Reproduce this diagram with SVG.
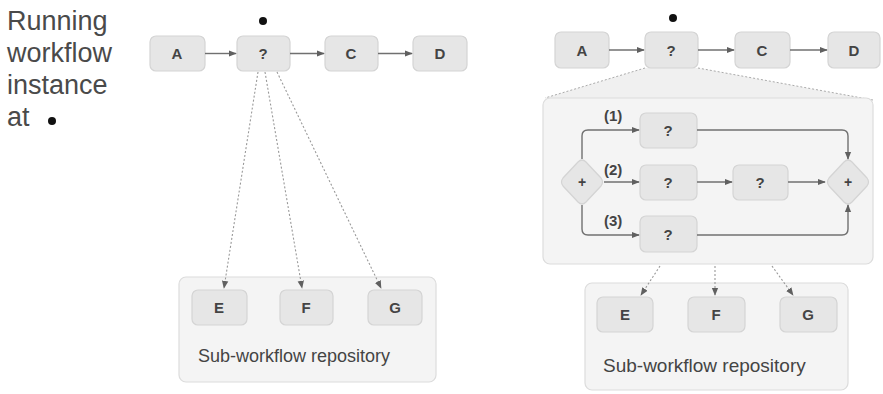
<svg xmlns="http://www.w3.org/2000/svg" width="883" height="394" viewBox="0 0 883 394">
  <style>
    .node rect, .node path { fill: #e6e6e6; stroke: #d4d4d4; stroke-width: 1.2; }
    .node text { font-family: "Liberation Sans", Arial, sans-serif; font-size: 15px; font-weight: bold; fill: #444; text-anchor: middle; }
    .box { fill: #f4f4f4; stroke: #dcdcdc; stroke-width: 1.2; }
    .caption { font-family: "Liberation Sans", Arial, sans-serif; font-size: 18px; fill: #444; }
    .side { font-family: "Liberation Sans", Arial, sans-serif; font-size: 27px; fill: #4a4a4a; }
    .lbl { font-family: "Liberation Sans", Arial, sans-serif; font-size: 15px; font-weight: bold; fill: #444; }
    .flow { fill: none; stroke: #707070; stroke-width: 1.4; marker-end: url(#arr); }
    .dash { fill: none; stroke: #999; stroke-width: 1.1; stroke-dasharray: 2 2; marker-end: url(#arr); }
    .dot { fill: #111; }
  </style>
  <defs>
    <marker id="arr" viewBox="0 0 10 10" refX="9" refY="5" markerWidth="8" markerHeight="8" orient="auto" markerUnits="userSpaceOnUse">
      <path d="M0,1 L10,5 L0,9 z" fill="#606060"/>
    </marker>
  </defs>

  <!-- side caption -->
  <g id="caption">
    <text class="side" x="7" y="30">Running</text>
    <text class="side" x="7" y="62">workflow</text>
    <text class="side" x="7" y="94">instance</text>
    <text class="side" x="7" y="126">at</text>
    <circle class="dot" cx="52" cy="121" r="4"/>
  </g>

  <!-- left: running instance -->
  <g id="repoL">
    <rect class="box" x="179" y="277" width="257" height="105" rx="7"/>
    <text class="caption" x="198" y="362">Sub-workflow repository</text>
  </g>
  <g id="L_A" class="node"><rect x="150" y="36" width="55" height="35" rx="6"/><text x="177" y="59">A</text></g>
  <g id="L_Q" class="node"><rect x="237" y="36" width="53" height="35" rx="6"/><text x="263" y="59">?</text></g>
  <g id="L_C" class="node"><rect x="325" y="36" width="53" height="35" rx="6"/><text x="351" y="59">C</text></g>
  <g id="L_D" class="node"><rect x="413" y="36" width="54" height="35" rx="6"/><text x="440" y="59">D</text></g>
  <circle id="L_mark" class="dot" cx="263" cy="21" r="4"/>
  <g id="L_E" class="node"><rect x="192" y="290" width="55" height="35" rx="6"/><text x="219" y="313">E</text></g>
  <g id="L_F" class="node"><rect x="280" y="290" width="53" height="35" rx="6"/><text x="306" y="313">F</text></g>
  <g id="L_G" class="node"><rect x="368" y="290" width="54" height="35" rx="6"/><text x="395" y="313">G</text></g>

  <g id="connectorsL">
    <line class="flow" x1="205" y1="53.5" x2="236" y2="53.5"/>
    <line class="flow" x1="290" y1="53.5" x2="324" y2="53.5"/>
    <line class="flow" x1="378" y1="53.5" x2="412" y2="53.5"/>
    <line class="dash" x1="258" y1="72" x2="224" y2="288"/>
    <line class="dash" x1="265" y1="72" x2="302" y2="288"/>
    <line class="dash" x1="277" y1="72" x2="381" y2="288"/>
  </g>

  <!-- right: expanded instance -->
  <g id="zoomR">
    <polygon points="645,68 698,68 873,100 545,98" fill="#f0f0f0"/>
    <line x1="645" y1="68" x2="545" y2="98" stroke="#aaa" stroke-width="1" stroke-dasharray="2 2"/>
    <line x1="698" y1="68" x2="873" y2="100" stroke="#aaa" stroke-width="1" stroke-dasharray="2 2"/>
    <rect class="box" x="543" y="98" width="330" height="166" rx="7"/>
  </g>
  <g id="repoR">
    <rect class="box" x="585" y="283" width="263" height="107" rx="7"/>
    <text class="caption" x="603" y="372" style="font-size:19px">Sub-workflow repository</text>
  </g>
  <g id="R_A" class="node"><rect x="555" y="32" width="54" height="36" rx="6"/><text x="582" y="56">A</text></g>
  <g id="R_Q" class="node"><rect x="645" y="32" width="53" height="36" rx="6"/><text x="671" y="56">?</text></g>
  <g id="R_C" class="node"><rect x="735" y="32" width="55" height="36" rx="6"/><text x="762" y="56">C</text></g>
  <g id="R_D" class="node"><rect x="828" y="32" width="52" height="36" rx="6"/><text x="854" y="56">D</text></g>
  <circle id="R_mark" class="dot" cx="673" cy="18" r="4"/>

  <g id="split" class="node"><path d="M578,162 Q582,158 586,162 L601,178 Q604,182 601,186 L586,202 Q582,206 578,202 L563,186 Q560,182 563,178 Z"/><text x="582" y="187" style="font-size:14px">+</text></g>
  <g id="join" class="node"><path d="M844,162 Q848,158 852,162 L867,178 Q870,182 867,186 L852,202 Q848,206 844,202 L829,186 Q826,182 829,178 Z"/><text x="848" y="187" style="font-size:14px">+</text></g>
  <g id="Q1" class="node"><rect x="640" y="113" width="57" height="35" rx="6"/><text x="668" y="136">?</text></g>
  <g id="Q2" class="node"><rect x="640" y="165" width="57" height="35" rx="6"/><text x="668" y="188">?</text></g>
  <g id="Q2b" class="node"><rect x="733" y="165" width="55" height="35" rx="6"/><text x="760" y="188">?</text></g>
  <g id="Q3" class="node"><rect x="640" y="216" width="57" height="36" rx="6"/><text x="668" y="240">?</text></g>

  <g id="R_E" class="node"><rect x="597" y="297" width="56" height="35" rx="6"/><text x="625" y="320">E</text></g>
  <g id="R_F" class="node"><rect x="688" y="297" width="57" height="35" rx="6"/><text x="716" y="320">F</text></g>
  <g id="R_G" class="node"><rect x="780" y="297" width="57" height="35" rx="6"/><text x="808" y="320">G</text></g>

  <g id="connectorsR">
    <line class="flow" x1="609" y1="50" x2="644" y2="50"/>
    <line class="flow" x1="698" y1="50" x2="734" y2="50"/>
    <line class="flow" x1="790" y1="50" x2="827" y2="50"/>

    <path class="flow" d="M582,159 V136 Q582,130 588,130 H639"/>
    <line class="flow" x1="604" y1="182" x2="639" y2="182"/>
    <path class="flow" d="M582,205 V229 Q582,235 588,235 H639"/>
    <line class="flow" x1="697" y1="182" x2="732" y2="182"/>
    <line class="flow" x1="788" y1="182" x2="825" y2="182"/>
    <path class="flow" d="M697,130 H842 Q848,130 848,136 V159"/>
    <path class="flow" d="M697,235 H842 Q848,235 848,229 V205"/>

    <line class="dash" x1="660" y1="266" x2="641" y2="295"/>
    <line class="dash" x1="715" y1="266" x2="715" y2="295"/>
    <line class="dash" x1="772" y1="266" x2="793" y2="295"/>
  </g>
  <g id="branchLabels">
    <text class="lbl" x="604" y="121">(1)</text>
    <text class="lbl" x="604" y="175">(2)</text>
    <text class="lbl" x="604" y="226">(3)</text>
  </g>
</svg>
